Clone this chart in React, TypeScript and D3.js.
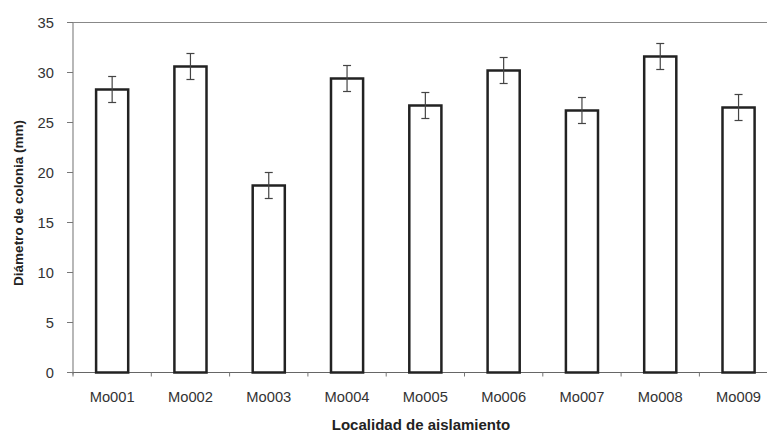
import React from 'react';
import * as d3 from 'd3';

const categories = ['Mo001', 'Mo002', 'Mo003', 'Mo004', 'Mo005', 'Mo006', 'Mo007', 'Mo008', 'Mo009'];
const means = [28.3, 30.6, 18.7, 29.4, 26.7, 30.2, 26.2, 31.6, 26.5];
const errors = [1.3, 1.3, 1.3, 1.3, 1.3, 1.3, 1.3, 1.3, 1.3];
const yTicks = [0, 5, 10, 15, 20, 25, 30, 35];

const W = 767;
const H = 433;
const left = 73;
const top = 22.5;
const bottom = 372.5;
const bandW = 78.3;

export default function App() {
  const x = d3.scaleBand<string>()
    .domain(categories)
    .range([left, left + bandW * categories.length])
    .paddingInner(0.59)
    .paddingOuter(0.295);
  const y = d3.scaleLinear().domain([0, 35]).range([bottom, top]);
  const font = '"Liberation Sans", Arial, sans-serif';
  const boundaries = d3.range(categories.length + 1).map((i) => left + i * bandW);

  return (
    <svg width={W} height={H} style={{ position: 'absolute', left: 0, top: 0, background: '#fff' }}>
      {/* frame */}
      <line x1={left} x2={W} y1={top} y2={top} stroke="#888" strokeWidth={1.2} />
      <line x1={left} x2={left} y1={top} y2={bottom + 2} stroke="#888" strokeWidth={1.2} />
      <line x1={left} x2={W} y1={bottom} y2={bottom} stroke="#666" strokeWidth={1.2} />

      {/* y ticks */}
      {yTicks.map((t) => (
        <g key={t}>
          <line x1={left - 6} x2={left} y1={y(t)} y2={y(t)} stroke="#777" strokeWidth={1} />
          <text x={left - 19} y={y(t) + 5.5} textAnchor="end" fontFamily={font} fontSize={15.5}
            fill="#333" transform={`translate(${left - 19},0) scale(0.95,1) translate(${-(left - 19)},0)`}>{t}</text>
        </g>
      ))}

      {/* x ticks */}
      {boundaries.map((b, i) => (
        <line key={i} x1={b} x2={b} y1={bottom} y2={bottom + 4} stroke="#777" strokeWidth={1} />
      ))}

      {/* bars */}
      {categories.map((c, i) => {
        const bx = x(c)!;
        const cx = bx + x.bandwidth() / 2;
        return (
          <g key={c}>
            <rect x={bx} y={y(means[i])} width={x.bandwidth()} height={bottom - y(means[i])}
              fill="#fff" stroke="#222" strokeWidth={2.5} />
            <line x1={cx} x2={cx} y1={y(means[i] + errors[i])} y2={y(means[i] - errors[i])} stroke="#444" strokeWidth={1.2} />
            <line x1={cx - 4} x2={cx + 4} y1={y(means[i] + errors[i])} y2={y(means[i] + errors[i])} stroke="#444" strokeWidth={1.2} />
            <line x1={cx - 4} x2={cx + 4} y1={y(means[i] - errors[i])} y2={y(means[i] - errors[i])} stroke="#444" strokeWidth={1.2} />
            <text x={cx} y={402} textAnchor="middle" fontFamily={font} fontSize={15.5}
              fill="#333" transform={`translate(${cx},0) scale(0.95,1) translate(${-cx},0)`}>{c}</text>
          </g>
        );
      })}

      {/* axis titles */}
      <text x={421} y={430} textAnchor="middle" fontFamily={font} fontSize={15} fontWeight="bold" fill="#222">
        Localidad de aislamiento
      </text>
      <text transform="translate(23,203) rotate(-90)" textAnchor="middle" fontFamily={font} fontSize={13.5} fontWeight="bold" fill="#222">
        Diámetro de colonia (mm)
      </text>
    </svg>
  );
}
